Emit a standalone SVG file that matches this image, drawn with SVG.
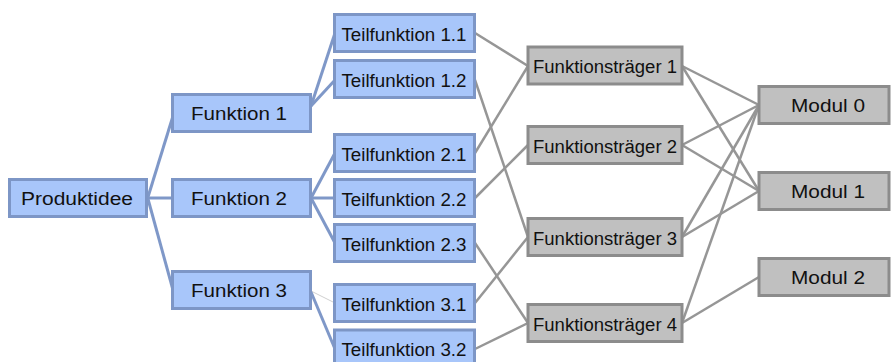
<svg xmlns="http://www.w3.org/2000/svg" width="892" height="362" viewBox="0 0 892 362">
<defs>
<style>
.b rect{fill:#a8c6fa;stroke:#7d96c6;stroke-width:3}
.g rect{fill:#c0c0c0;stroke:#8c8c8c;stroke-width:3}
text{font-family:"Liberation Sans",Arial,sans-serif;font-size:18px;fill:#111;text-anchor:middle}
.bl{stroke:#7f98c8;stroke-width:3;fill:none}
.gl{stroke:#969696;stroke-width:2.5;fill:none}
.tl{stroke:#d0d0d0;stroke-width:1;fill:none}
</style>
</defs>
<rect width="892" height="362" fill="#fff"/>
<g id="connectors">
<line class="bl" x1="148" y1="197" x2="173" y2="116"/>
<line class="bl" x1="148" y1="198" x2="173" y2="198"/>
<line class="bl" x1="148" y1="199" x2="173" y2="290"/>
<line class="bl" x1="311" y1="106" x2="335" y2="33"/>
<line class="bl" x1="311" y1="106" x2="335" y2="80"/>
<line class="bl" x1="311" y1="198" x2="335" y2="153"/>
<line class="bl" x1="311" y1="198" x2="335" y2="198"/>
<line class="bl" x1="311" y1="198" x2="335" y2="243"/>
<line class="tl" x1="311" y1="291" x2="335" y2="303"/>
<line class="bl" x1="311" y1="292" x2="335" y2="349"/>
<line class="gl" x1="475" y1="33" x2="528" y2="66"/>
<line class="gl" x1="475" y1="80" x2="528" y2="237"/>
<line class="gl" x1="475" y1="153" x2="528" y2="66"/>
<line class="gl" x1="475" y1="198" x2="528" y2="145"/>
<line class="gl" x1="475" y1="243" x2="528" y2="323"/>
<line class="gl" x1="475" y1="303" x2="528" y2="237"/>
<line class="gl" x1="475" y1="349" x2="528" y2="323"/>
<line class="gl" x1="682" y1="66" x2="759" y2="105"/>
<line class="gl" x1="682" y1="66" x2="759" y2="191"/>
<line class="gl" x1="682" y1="145" x2="759" y2="105"/>
<line class="gl" x1="682" y1="145" x2="759" y2="191"/>
<line class="gl" x1="682" y1="237" x2="759" y2="105"/>
<line class="gl" x1="682" y1="237" x2="759" y2="191"/>
<line class="gl" x1="682" y1="323" x2="759" y2="105"/>
<line class="gl" x1="682" y1="323" x2="759" y2="277"/>
</g>
<g id="produktidee" class="b"><rect x="9.5" y="179.5" width="137" height="37"/><text x="77" y="205" textLength="112" lengthAdjust="spacingAndGlyphs">Produktidee</text></g>
<g id="funktion1" class="b"><rect x="172.5" y="94.5" width="138" height="37"/><text x="239" y="120" textLength="96" lengthAdjust="spacingAndGlyphs">Funktion 1</text></g>
<g id="funktion2" class="b"><rect x="172.5" y="179.5" width="138" height="37"/><text x="239" y="205" textLength="96" lengthAdjust="spacingAndGlyphs">Funktion 2</text></g>
<g id="funktion3" class="b"><rect x="172.5" y="271.5" width="138" height="37"/><text x="239" y="297" textLength="96" lengthAdjust="spacingAndGlyphs">Funktion 3</text></g>
<g id="teil11" class="b"><rect x="334.5" y="14.5" width="140" height="37"/><text x="404" y="40.5" textLength="125" lengthAdjust="spacingAndGlyphs">Teilfunktion 1.1</text></g>
<g id="teil12" class="b"><rect x="334.5" y="60.5" width="140" height="37"/><text x="404" y="86.5" textLength="125" lengthAdjust="spacingAndGlyphs">Teilfunktion 1.2</text></g>
<g id="teil21" class="b"><rect x="334.5" y="134.5" width="140" height="37"/><text x="404" y="160.5" textLength="125" lengthAdjust="spacingAndGlyphs">Teilfunktion 2.1</text></g>
<g id="teil22" class="b"><rect x="334.5" y="179.5" width="140" height="37"/><text x="404" y="205.5" textLength="125" lengthAdjust="spacingAndGlyphs">Teilfunktion 2.2</text></g>
<g id="teil23" class="b"><rect x="334.5" y="224.5" width="140" height="37"/><text x="404" y="250.5" textLength="125" lengthAdjust="spacingAndGlyphs">Teilfunktion 2.3</text></g>
<g id="teil31" class="b"><rect x="334.5" y="284.5" width="140" height="37"/><text x="404" y="310.5" textLength="125" lengthAdjust="spacingAndGlyphs">Teilfunktion 3.1</text></g>
<g id="teil32" class="b"><rect x="334.5" y="330" width="140" height="37"/><text x="404" y="355.5" textLength="125" lengthAdjust="spacingAndGlyphs">Teilfunktion 3.2</text></g>
<g id="ft1" class="g"><rect x="528" y="47" width="154" height="37"/><text x="605" y="73" textLength="144" lengthAdjust="spacingAndGlyphs">Funktionsträger 1</text></g>
<g id="ft2" class="g"><rect x="528" y="126.5" width="154" height="37"/><text x="605" y="152.5" textLength="144" lengthAdjust="spacingAndGlyphs">Funktionsträger 2</text></g>
<g id="ft3" class="g"><rect x="528" y="218.5" width="154" height="37"/><text x="605" y="244.5" textLength="144" lengthAdjust="spacingAndGlyphs">Funktionsträger 3</text></g>
<g id="ft4" class="g"><rect x="528" y="304.5" width="154" height="37"/><text x="605" y="330.5" textLength="144" lengthAdjust="spacingAndGlyphs">Funktionsträger 4</text></g>
<g id="modul0" class="g"><rect x="759" y="86.5" width="130" height="37"/><text x="828" y="112" textLength="74" lengthAdjust="spacingAndGlyphs">Modul 0</text></g>
<g id="modul1" class="g"><rect x="759" y="172.5" width="130" height="37"/><text x="828" y="198" textLength="74" lengthAdjust="spacingAndGlyphs">Modul 1</text></g>
<g id="modul2" class="g"><rect x="759" y="258.5" width="130" height="37"/><text x="828" y="284" textLength="74" lengthAdjust="spacingAndGlyphs">Modul 2</text></g>
</svg>
